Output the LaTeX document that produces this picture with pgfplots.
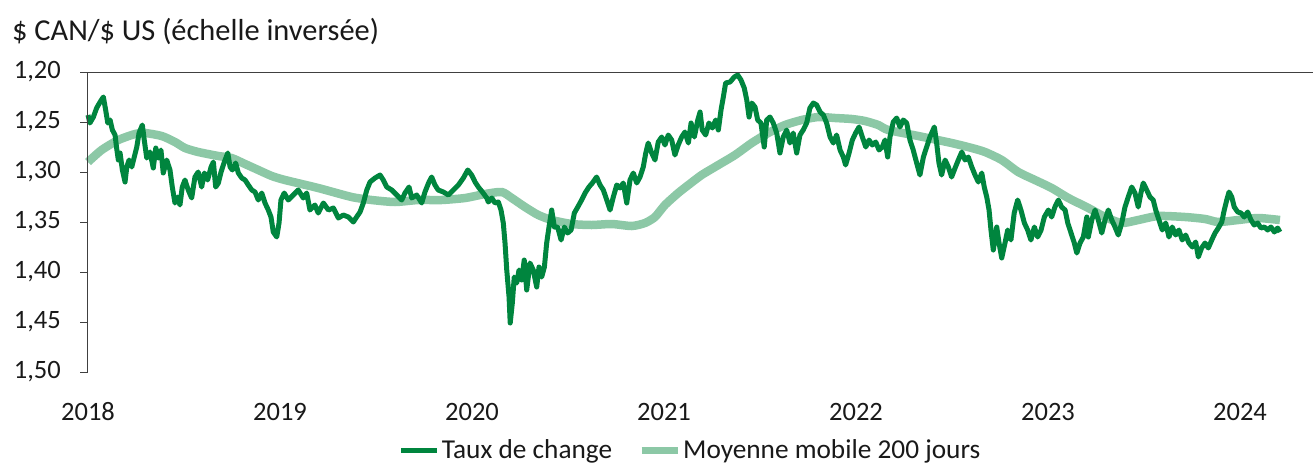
\documentclass[border=0pt]{standalone}
\usepackage{fontspec}
\setmainfont{Carlito}
\usepackage{pgfplots}
\usepackage{pgfplotstable}
\pgfplotsset{compat=1.18}
\definecolor{tauxc}{RGB}{0,133,62}
\definecolor{moyc}{RGB}{140,200,166}

\pgfplotstableread{
x y
2018.000 1.243
2018.010 1.251
2018.028 1.245
2018.045 1.236
2018.063 1.230
2018.080 1.225
2018.092 1.238
2018.103 1.251
2018.115 1.248
2018.127 1.258
2018.141 1.263
2018.149 1.276
2018.158 1.288
2018.167 1.281
2018.179 1.298
2018.193 1.310
2018.202 1.295
2018.214 1.288
2018.228 1.295
2018.241 1.285
2018.254 1.275
2018.266 1.261
2018.283 1.253
2018.293 1.268
2018.306 1.286
2018.323 1.280
2018.340 1.296
2018.353 1.276
2018.366 1.286
2018.380 1.278
2018.392 1.301
2018.410 1.288
2018.427 1.298
2018.439 1.315
2018.453 1.331
2018.467 1.325
2018.479 1.333
2018.491 1.315
2018.505 1.308
2018.522 1.318
2018.540 1.326
2018.557 1.305
2018.574 1.300
2018.592 1.315
2018.606 1.301
2018.623 1.308
2018.641 1.295
2018.653 1.290
2018.665 1.315
2018.679 1.311
2018.693 1.300
2018.710 1.290
2018.728 1.281
2018.740 1.295
2018.752 1.298
2018.769 1.291
2018.783 1.301
2018.801 1.306
2018.818 1.308
2018.835 1.313
2018.853 1.318
2018.870 1.320
2018.887 1.328
2018.905 1.321
2018.922 1.331
2018.939 1.338
2018.953 1.345
2018.965 1.360
2018.983 1.365
2018.995 1.351
2019.005 1.328
2019.022 1.321
2019.043 1.328
2019.069 1.323
2019.095 1.318
2019.121 1.326
2019.139 1.321
2019.156 1.338
2019.182 1.333
2019.199 1.341
2019.226 1.331
2019.252 1.338
2019.278 1.336
2019.304 1.346
2019.330 1.343
2019.356 1.345
2019.382 1.350
2019.399 1.345
2019.417 1.340
2019.434 1.331
2019.452 1.318
2019.469 1.310
2019.495 1.306
2019.521 1.303
2019.538 1.308
2019.556 1.315
2019.582 1.318
2019.608 1.323
2019.634 1.328
2019.651 1.321
2019.672 1.315
2019.686 1.326
2019.712 1.323
2019.738 1.331
2019.755 1.320
2019.776 1.310
2019.790 1.305
2019.807 1.313
2019.824 1.318
2019.851 1.320
2019.877 1.323
2019.903 1.318
2019.929 1.313
2019.955 1.306
2019.978 1.298
2019.998 1.303
2020.016 1.310
2020.033 1.315
2020.054 1.320
2020.077 1.326
2020.085 1.330
2020.103 1.326
2020.120 1.331
2020.137 1.330
2020.151 1.338
2020.163 1.351
2020.172 1.371
2020.181 1.398
2020.193 1.425
2020.199 1.451
2020.210 1.431
2020.220 1.405
2020.233 1.411
2020.245 1.398
2020.259 1.408
2020.272 1.388
2020.285 1.418
2020.302 1.391
2020.319 1.398
2020.337 1.415
2020.349 1.395
2020.363 1.405
2020.377 1.395
2020.389 1.371
2020.401 1.355
2020.415 1.338
2020.429 1.355
2020.446 1.355
2020.464 1.368
2020.481 1.355
2020.498 1.361
2020.516 1.358
2020.533 1.341
2020.551 1.335
2020.571 1.328
2020.589 1.321
2020.609 1.315
2020.627 1.311
2020.649 1.305
2020.667 1.313
2020.684 1.318
2020.702 1.328
2020.719 1.338
2020.736 1.325
2020.754 1.313
2020.771 1.316
2020.788 1.311
2020.806 1.331
2020.823 1.308
2020.840 1.301
2020.858 1.311
2020.875 1.305
2020.892 1.295
2020.905 1.281
2020.918 1.271
2020.936 1.281
2020.953 1.288
2020.970 1.270
2020.988 1.265
2021.005 1.273
2021.022 1.263
2021.040 1.268
2021.057 1.283
2021.074 1.273
2021.092 1.265
2021.109 1.260
2021.127 1.271
2021.141 1.251
2021.158 1.265
2021.176 1.248
2021.188 1.240
2021.199 1.258
2021.217 1.263
2021.234 1.251
2021.252 1.256
2021.269 1.248
2021.283 1.258
2021.297 1.238
2021.309 1.225
2021.321 1.211
2021.344 1.210
2021.366 1.205
2021.384 1.203
2021.401 1.208
2021.418 1.216
2021.431 1.228
2021.443 1.245
2021.457 1.231
2021.474 1.235
2021.488 1.248
2021.505 1.251
2021.522 1.275
2021.535 1.248
2021.552 1.245
2021.569 1.251
2021.587 1.261
2021.604 1.281
2021.621 1.265
2021.639 1.258
2021.656 1.271
2021.673 1.261
2021.691 1.281
2021.708 1.263
2021.725 1.258
2021.743 1.251
2021.760 1.236
2021.778 1.231
2021.795 1.233
2021.813 1.240
2021.830 1.243
2021.847 1.251
2021.865 1.265
2021.882 1.271
2021.899 1.263
2021.917 1.278
2021.934 1.285
2021.946 1.293
2021.964 1.281
2021.981 1.268
2021.998 1.261
2022.016 1.255
2022.033 1.265
2022.051 1.275
2022.068 1.268
2022.085 1.273
2022.103 1.270
2022.120 1.278
2022.137 1.275
2022.151 1.268
2022.165 1.285
2022.177 1.265
2022.194 1.250
2022.212 1.246
2022.229 1.255
2022.246 1.248
2022.264 1.251
2022.281 1.268
2022.298 1.278
2022.316 1.291
2022.333 1.303
2022.351 1.285
2022.368 1.275
2022.385 1.265
2022.408 1.255
2022.420 1.271
2022.432 1.291
2022.446 1.303
2022.464 1.288
2022.481 1.295
2022.498 1.305
2022.516 1.296
2022.533 1.288
2022.551 1.280
2022.568 1.288
2022.585 1.285
2022.603 1.295
2022.620 1.303
2022.637 1.310
2022.655 1.301
2022.668 1.315
2022.681 1.325
2022.693 1.338
2022.703 1.358
2022.715 1.378
2022.733 1.355
2022.745 1.371
2022.759 1.386
2022.776 1.371
2022.790 1.358
2022.807 1.368
2022.824 1.341
2022.842 1.328
2022.859 1.338
2022.877 1.351
2022.894 1.358
2022.911 1.368
2022.929 1.355
2022.946 1.365
2022.964 1.358
2022.981 1.345
2023.002 1.338
2023.019 1.345
2023.036 1.335
2023.054 1.328
2023.071 1.335
2023.089 1.338
2023.103 1.351
2023.120 1.361
2023.137 1.371
2023.150 1.381
2023.167 1.371
2023.184 1.365
2023.202 1.345
2023.210 1.365
2023.228 1.348
2023.245 1.338
2023.262 1.348
2023.280 1.361
2023.297 1.348
2023.314 1.338
2023.332 1.348
2023.349 1.355
2023.366 1.363
2023.384 1.351
2023.401 1.335
2023.418 1.325
2023.436 1.315
2023.453 1.321
2023.470 1.335
2023.484 1.321
2023.496 1.311
2023.514 1.318
2023.531 1.325
2023.548 1.328
2023.561 1.338
2023.578 1.348
2023.595 1.358
2023.613 1.351
2023.630 1.365
2023.647 1.355
2023.665 1.363
2023.682 1.358
2023.699 1.368
2023.717 1.363
2023.734 1.371
2023.752 1.375
2023.769 1.370
2023.783 1.385
2023.800 1.376
2023.818 1.371
2023.835 1.376
2023.853 1.368
2023.870 1.361
2023.887 1.356
2023.905 1.350
2023.918 1.338
2023.931 1.328
2023.943 1.320
2023.957 1.325
2023.970 1.335
2023.988 1.340
2024.005 1.341
2024.022 1.345
2024.040 1.340
2024.057 1.348
2024.074 1.353
2024.092 1.351
2024.109 1.356
2024.127 1.355
2024.144 1.358
2024.161 1.355
2024.179 1.360
2024.196 1.356
2024.208 1.360
}\tauxdata

\pgfplotstableread{
x y
2018.000 1.290
2018.071 1.278
2018.158 1.268
2018.245 1.262
2018.297 1.261
2018.384 1.264
2018.453 1.270
2018.505 1.276
2018.574 1.280
2018.679 1.284
2018.748 1.286
2018.818 1.292
2018.887 1.298
2018.957 1.304
2019.026 1.308
2019.199 1.316
2019.373 1.325
2019.478 1.328
2019.599 1.330
2019.720 1.328
2019.842 1.328
2019.964 1.326
2020.068 1.322
2020.155 1.320
2020.207 1.326
2020.276 1.335
2020.345 1.343
2020.415 1.348
2020.519 1.352
2020.623 1.353
2020.728 1.352
2020.832 1.354
2020.901 1.351
2020.953 1.345
2021.005 1.333
2021.074 1.321
2021.127 1.313
2021.196 1.303
2021.283 1.293
2021.370 1.283
2021.457 1.271
2021.543 1.261
2021.630 1.253
2021.717 1.248
2021.804 1.245
2021.891 1.246
2021.978 1.247
2022.047 1.249
2022.116 1.253
2022.168 1.258
2022.324 1.264
2022.498 1.271
2022.603 1.276
2022.672 1.280
2022.759 1.288
2022.845 1.300
2022.932 1.308
2023.019 1.316
2023.106 1.326
2023.210 1.336
2023.297 1.345
2023.384 1.351
2023.470 1.348
2023.574 1.344
2023.714 1.345
2023.818 1.347
2023.887 1.350
2023.991 1.348
2024.095 1.346
2024.208 1.348
}\moydata

\begin{document}
\begin{tikzpicture}
\begin{axis}[
  scale only axis, width=1225pt, height=300pt,
  xmin=2018, xmax=2024.38, ymin=1.20, ymax=1.50, y dir=reverse,
  clip=false,
  separate axis lines, axis line style={draw=none},
  xtick={2018,2019,2020,2021,2022,2023,2024},
  xticklabels={2018,2019,2020,2021,2022,2023,2024},
  xtick style={draw=none},
  ytick={1.20,1.25,1.30,1.35,1.40,1.45,1.50},
  ytick pos=left, tick align=outside, major tick length=8pt,
  ytick style={draw=black!75, line width=1pt},
  /pgf/number format/use comma, /pgf/number format/fixed,
  /pgf/number format/fixed zerofill, /pgf/number format/precision=2,
  /pgf/number format/assume math mode=true,
  tick label style={font=\fontsize{26.5}{31}\selectfont, text=black!90},
  yticklabel style={inner sep=0pt, xshift=-19pt},
  xticklabel style={inner sep=0pt, anchor=base, yshift=-40pt},
  legend style={draw=none, fill=none, at={(0.2537,-0.26)}, anchor=west,
    legend columns=2, inner sep=0pt, font=\fontsize{27.3}{32}\selectfont,
    nodes={inner sep=2pt, text=black!90},
    /tikz/every even column/.append style={column sep=24pt}},
  legend image code/.code={\draw[#1] (0pt,0pt) -- (36pt,0pt);},
]
\addlegendimage{tauxc, line width=5pt}
\addlegendentry{Taux de change}
\addlegendimage{moyc, line width=7pt}
\addlegendentry{Moyenne mobile 200 jours}
\addplot[moyc, line width=8.5pt, smooth, tension=0.4, forget plot] table[x=x, y=y] {\moydata};
\addplot[tauxc, line width=5pt, line join=round, forget plot] table[x=x, y=y] {\tauxdata};
\draw[black!75, line width=1pt] (axis cs:2018,1.20) -- (axis cs:2018,1.50);
\draw[black!75, line width=1pt] (axis cs:2018,1.20) -- (axis cs:2024.38,1.20);
\node[anchor=base west, inner sep=0pt, xshift=-76pt, yshift=32pt, font=\fontsize{30.4}{36}\selectfont, text=black!90] at (axis cs:2018,1.20) {\$ CAN/\$ US (échelle inversée)};
\coordinate (bl) at (axis cs:2018,1.50);
\end{axis}
\pgfresetboundingbox
\path (bl) ++(-88pt,-92pt) rectangle ++(1315pt,464pt);
\end{tikzpicture}
\end{document}
